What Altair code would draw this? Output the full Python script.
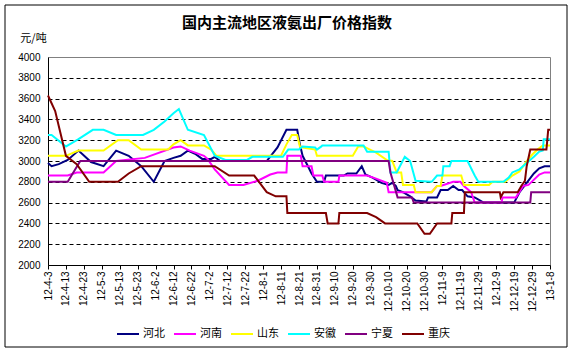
import json
import altair as alt
import pandas as pd

title_text = "国内主流地区液氨出厂价格指数"
unit_text = "元/吨"

series_names = ["河北", "河南", "山东", "安徽", "宁夏", "重庆"]
series_colors = ["#000080", "#FF00FF", "#FFFF00", "#00FFFF", "#800080", "#800000"]

# x = days since 2012-04-03
x_labels = ["12-4-3", "12-4-13", "12-4-23", "12-5-3", "12-5-13", "12-5-23", "12-6-2",
            "12-6-12", "12-6-22", "12-7-2", "12-7-12", "12-7-22", "12-8-1", "12-8-11",
            "12-8-21", "12-8-31", "12-9-10", "12-9-20", "12-9-30", "12-10-10", "12-10-20",
            "12-10-30", "12-11-9", "12-11-19", "12-11-29", "12-12-9", "12-12-19",
            "12-12-29", "13-1-8"]
x_ticks = list(range(0, 281, 10))
y_ticks = list(range(2000, 4001, 200))

hebei_days = [0, 2, 6, 11, 17, 24, 31, 38, 45, 52, 59, 65, 70, 74, 78, 82, 86, 91, 93, 96,
              122, 128, 133, 139, 140.5, 142, 145, 147, 150, 154, 155, 165, 167, 172, 175,
              177, 181, 186, 190, 192, 194, 195, 198, 202, 205, 211, 212, 217, 219, 223,
              226, 229, 231, 234, 238, 243, 260, 263, 267, 271, 274, 277, 280]
hebei_vals = [2980, 2950, 2970, 3010, 3100, 2990, 2950, 3100, 3050, 2950, 2800, 3000, 3030,
              3050, 3100, 3070, 3020, 3020, 3040, 3000, 3000, 3130, 3300, 3300, 3160, 3050,
              2950, 2880, 2800, 2800, 2860, 2860, 2880, 2880, 2950, 2870, 2840, 2790, 2770,
              2790, 2760, 2720, 2700, 2660, 2620, 2610, 2650, 2650, 2720, 2720, 2760, 2720,
              2720, 2660, 2650, 2600, 2600, 2700, 2790, 2880, 2930, 2950, 2950]

henan_days = [0, 11, 16, 31, 38, 54, 70, 74, 79, 87, 89, 93, 101, 109, 117, 124, 128, 133,
              133.5, 141, 142, 147, 148, 153, 154, 162, 162.5, 178, 183, 189, 190, 214, 217,
              219, 226, 230, 232, 236, 238, 253, 253.5, 261, 265, 268, 274, 277, 280]
henan_vals = [2860, 2860, 2890, 2890, 3000, 3030, 3130, 3140, 3100, 3050, 3020, 2920, 2770,
              2770, 2810, 2870, 2890, 2890, 3050, 3050, 2950, 2950, 2860, 2860, 2800, 2800,
              2860, 2860, 2830, 2790, 2700, 2700, 2760, 2760, 2800, 2800, 2760, 2700, 2600,
              2600, 2650, 2650, 2760, 2770, 2870, 2890, 2890]

shandong_days = [0, 10, 17, 31, 39, 45, 52, 67, 70, 74, 78, 87, 91, 94, 130, 133, 136, 139,
                 140.5, 142, 149, 150, 170, 173, 176, 183, 189, 192, 194.5, 197, 198, 204,
                 205, 214, 217, 219, 220, 230.5, 232, 246, 248, 255, 259, 263, 267, 270, 273,
                 276, 280]
shandong_vals = [3050, 3050, 3100, 3100, 3200, 3200, 3110, 3110, 3160, 3200, 3150, 3150,
                 3110, 3050, 3050, 3160, 3250, 3250, 3140, 3130, 3110, 3050, 3050, 3140,
                 3140, 3080, 3010, 3000, 2890, 2890, 2770, 2770, 2700, 2700, 2760, 2760,
                 2860, 2860, 2770, 2770, 2800, 2800, 2860, 2900, 3000, 3060, 3110, 3150, 3150]

anhui_days = [0, 2, 10, 13, 17, 25, 31, 38, 53, 59, 65, 70, 73, 78, 87, 93, 99, 111, 114,
              131, 134, 140, 142, 149, 150, 152.5, 153, 176, 178, 190, 191, 194.5, 199, 202,
              205, 214, 217, 220, 220.5, 224, 225, 234, 238, 240, 254, 257, 259, 263, 267,
              271, 274, 276, 276.5, 280]
anhui_vals = [3250, 3250, 3140, 3170, 3210, 3300, 3300, 3250, 3250, 3300, 3380, 3460, 3500,
              3300, 3250, 3050, 3010, 3010, 3040, 3040, 3110, 3110, 3140, 3130, 3110, 3140,
              3150, 3150, 3090, 3090, 2890, 2890, 3040, 3000, 2810, 2800, 2860, 2860, 2950,
              2950, 3000, 3000, 2860, 2800, 2800, 2840, 2890, 2920, 2980, 3040, 3090, 3100,
              3210, 3210]

ningxia_days = [0, 11, 18, 190, 191, 195, 203, 204, 269, 269.5, 280]
ningxia_vals = [2800, 2800, 3000, 3000, 2890, 2650, 2650, 2600, 2600, 2700, 2700]

chongqing_days = [0, 4, 10, 16, 23, 39, 45, 52, 93, 101, 115, 122, 127, 133, 133.5, 155,
                  156, 162, 162.5, 178, 183, 188, 206, 210, 213, 217, 225, 225.5, 232,
                  232.5, 252, 252.5, 254, 262, 264, 266, 267, 269, 278, 279, 280]
chongqing_vals = [3630, 3480, 3050, 2970, 2800, 2800, 2880, 2950, 2950, 2860, 2860, 2700,
                  2660, 2660, 2500, 2500, 2400, 2400, 2500, 2500, 2460, 2400, 2400, 2300,
                  2300, 2400, 2400, 2500, 2500, 2700, 2700, 2650, 2700, 2700, 2760, 2810,
                  2950, 3110, 3110, 3300, 3300]

all_days = [hebei_days, henan_days, shandong_days, anhui_days, ningxia_days, chongqing_days]
all_vals = [hebei_vals, henan_vals, shandong_vals, anhui_vals, ningxia_vals, chongqing_vals]

rows = []
for name, ds, vs in zip(series_names, all_days, all_vals):
    for d, v in zip(ds, vs):
        rows.append({"series": name, "day": d, "value": v})
df = pd.DataFrame(rows)

font_latin = "Liberation Sans, Noto Sans CJK SC"
font_cjk = "Noto Sans CJK SC"

label_expr = json.dumps(x_labels) + "[round(datum.value / 10)]"

lines = alt.Chart(df).mark_line(strokeWidth=2).encode(
    x=alt.X("day:Q",
            scale=alt.Scale(domain=[0, 280], nice=False, zero=False),
            axis=alt.Axis(values=x_ticks, labelExpr=label_expr, labelAngle=270,
                          labelFontSize=10, labelFont=font_latin, labelColor="black",
                          labelPadding=2, labelFlush=False, labelOverlap=False,
                          labelBound=False, tickSize=4, tickColor="black",
                          domainColor="black", grid=False, title=None)),
    y=alt.Y("value:Q",
            scale=alt.Scale(domain=[2000, 4000], nice=False, zero=False),
            axis=alt.Axis(values=y_ticks, format="d", labelFontSize=10,
                          labelFont=font_latin, labelColor="black", labelPadding=8,
                          ticks=False, domainColor="black", grid=True,
                          gridColor="black", gridDash=[4, 3],
                          gridOpacity=alt.condition(
                              "datum.value == 4000 || datum.value == 2000",
                              alt.value(0), alt.value(1)),
                          title=unit_text, titleAngle=0, titleX=-15, titleY=-19,
                          titleAlign="center", titleBaseline="middle",
                          titleFont=font_cjk, titleFontSize=11,
                          titleFontWeight="normal", titleColor="black")),
    color=alt.Color("series:N",
                    scale=alt.Scale(domain=series_names, range=series_colors),
                    legend=alt.Legend(title=None, orient="none", legendX=68,
                                      legendY=265, direction="horizontal",
                                      symbolType="stroke", symbolSize=484,
                                      symbolStrokeWidth=2, labelFont=font_cjk,
                                      labelFontSize=11, labelColor="black",
                                      labelOffset=3, columnPadding=5)),
    detail="series:N",
)

frame = alt.Chart(pd.DataFrame({"k": [0]})).mark_rect(
    filled=False, stroke="black", strokeWidth=1
).encode(
    x=alt.value(-43), x2=alt.value(519), y=alt.value(-52), y2=alt.value(290)
)

chart = alt.layer(lines, frame).properties(
    width=502,
    height=208,
    title=alt.TitleParams(title_text, fontSize=15, fontWeight="bold", font=font_cjk,
                          anchor="middle", dx=-12, dy=26, offset=0, color="black"),
    padding={"left": 48, "top": 57, "right": 23, "bottom": 88},
    autosize=alt.AutoSizeParams(type="none"),
    background="white",
).configure_view(stroke="#808080", strokeWidth=1)

chart.save("out.html", embed_options={"renderer": "svg", "actions": False})
